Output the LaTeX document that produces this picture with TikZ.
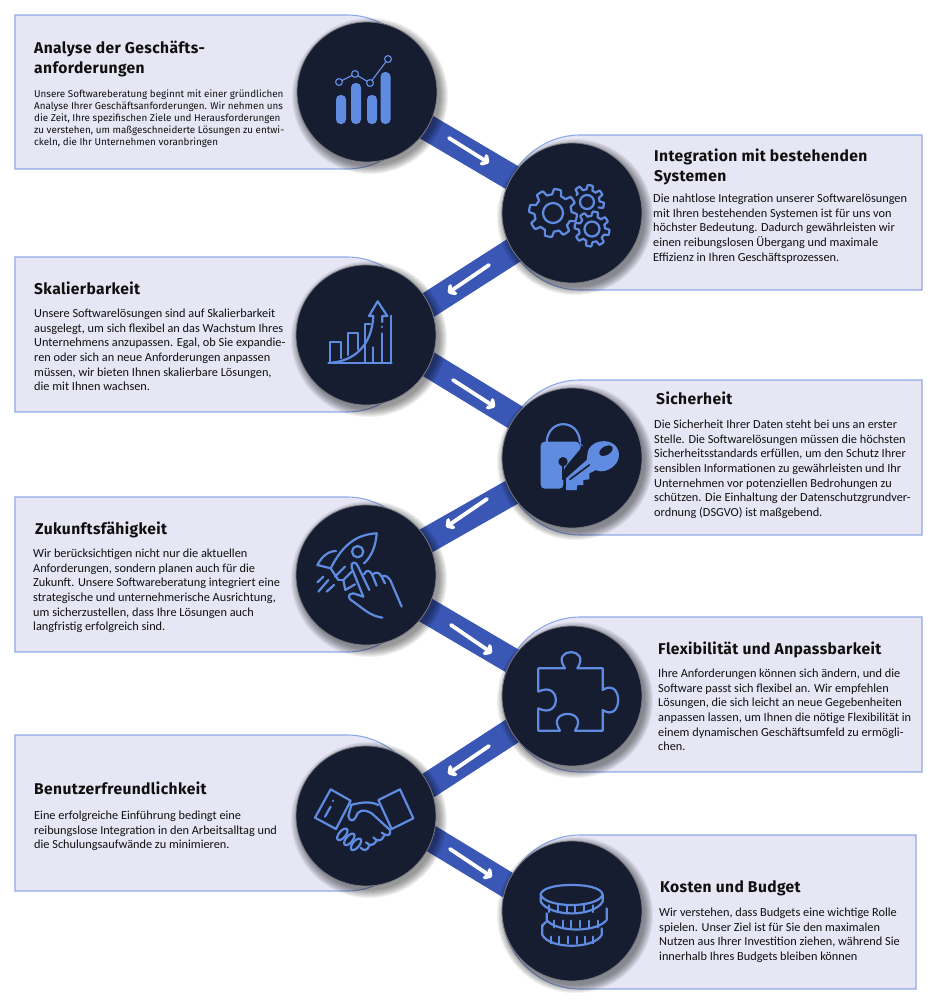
\documentclass[tikz,border=0pt]{standalone}
\usepackage{fontspec}
\setmainfont{Carlito}
\newfontfamily\titlefam[LetterSpace=2.5]{Fira Sans}
\newfontfamily\overfam{Fira Sans}
\usetikzlibrary{calc,backgrounds,arrows.meta}
\definecolor{panelfill}{HTML}{E6E6F5}
\definecolor{paneledge}{HTML}{8FA9E6}
\definecolor{bandblue}{HTML}{3A57B6}
\definecolor{discdark}{HTML}{171D30}
\definecolor{discedge}{HTML}{77797F}
\definecolor{iconblue}{HTML}{5F8BE0}
\definecolor{ink}{HTML}{101010}
\tikzset{
  x=1pt,y=-1pt,
  disc/.style={circle,fill=discdark,draw=discedge,line width=.8pt,minimum size=140pt,inner sep=0},
  panelshape/.style={fill=panelfill,draw=paneledge,line width=1.1pt},
  bandline/.style={draw=bandblue,line width=26pt},
  whitearrow/.style={draw=white,line width=3.8pt,line cap=round,-{Straight Barb[length=4pt,width=9pt,round]}},
  paneltitle/.style={anchor=north west,inner sep=0,align=left,text=ink,font=\titlefam\bfseries\fontsize{15.6}{20}\selectfont},
  panelbody/.style={anchor=north west,inner sep=0,align=left,text=ink,font=\fontsize{12.3}{14.6}\selectfont},
  panelbodyfirst/.style={anchor=north west,inner sep=0,align=left,text=ink,font=\overfam\fontsize{9.85}{12}\selectfont},
  iconline/.style={draw=iconblue,line width=2.2pt,line cap=round,line join=round},
  iconthin/.style={draw=iconblue,line width=1.2pt},
  iconfill/.style={fill=iconblue},
  cut/.style={draw=discdark,line width=1.6pt,line cap=round},
}
\newcommand\leftpanel[2]{\path[panelshape] (15,#1) -- (347,#1) .. controls (389,#1) and (424.5,{(#1+#2)/2-42}) .. (424.5,{(#1+#2)/2}) .. controls (424.5,{(#1+#2)/2+42}) and (389,#2) .. (347,#2) -- (15,#2) -- cycle;}
\newcommand\rightpanel[3]{\path[panelshape] (#3,#1) -- (580,#1) .. controls (538,#1) and (502.5,{(#1+#2)/2-42}) .. (502.5,{(#1+#2)/2}) .. controls (502.5,{(#1+#2)/2+42}) and (538,#2) .. (580,#2) -- (#3,#2) -- cycle;}
\newcommand\gearshape[7]{\draw[iconline] plot[domain=#6:#7,samples=240,smooth] ({#1+(#3-#4*(0.5-0.5*max(-1,min(1,2.6*sin(#5*\x)))))*cos(\x)},{#2+(#3-#4*(0.5-0.5*max(-1,min(1,2.6*sin(#5*\x)))))*sin(\x)});}
\begin{document}
\begin{tikzpicture}
\useasboundingbox (0,0) rectangle (938,1005);
% discs
\node[disc] (c1) at (367,92) {};
\node[disc] (c2) at (572,213) {};
\node[disc] (c3) at (366,335) {};
\node[disc] (c4) at (572,458) {};
\node[disc] (c5) at (366,575) {};
\node[disc] (c6) at (572,696) {};
\node[disc] (c7) at (366,816) {};
\node[disc] (c8) at (572,911) {};
% arrow ends
\coordinate (a1s) at (449,138); \coordinate (a1e) at (489,163);
\coordinate (a2s) at (489,265); \coordinate (a2e) at (448,293);
\coordinate (a3s) at (453,380); \coordinate (a3e) at (495,407);
\coordinate (a4s) at (487,499); \coordinate (a4e) at (446,527);
\coordinate (a5s) at (451,625); \coordinate (a5e) at (492,653);
\coordinate (a6s) at (489,746); \coordinate (a6e) at (448,774);
\coordinate (a7s) at (450,849); \coordinate (a7e) at (492,877);
\begin{scope}[on background layer]
\leftpanel{15}{169}
\rightpanel{135}{290}{922}
\leftpanel{257}{412}
\rightpanel{380}{535}{922}
\leftpanel{497}{652}
\rightpanel{617}{772}{922}
\leftpanel{735}{891}
\rightpanel{835}{989}{916}
\draw[bandline] (c1.center) -- (c2.center);
\draw[bandline] ($(c3.center)+(0,10)$) -- (c2.center);
\draw[bandline] ($(c3.center)+(0,-9)$) -- ($(c4.center)+(0,-6)$);
\draw[bandline] (c5.center) -- (c4.center);
\draw[bandline] (c5.center) -- (c6.center);
\draw[bandline] ($(c7.center)+(0,10)$) -- ($(c6.center)+(0,-4)$);
\draw[bandline] ($(c7.center)+(0,-17)$) -- ($(c8.center)+(0,13)$);
\foreach \s/\e in {a1s/a1e,a2s/a2e,a3s/a3e,a4s/a4e,a5s/a5e,a6s/a6e,a7s/a7e}
  \draw[whitearrow] (\s) -- (\e);
\foreach \c in {c1,c2,c3,c4,c5,c6,c7,c8}
  \foreach \r in {70,71,...,78}
    \fill[black,opacity=.055] ($(\c.center)+(3,4)$) circle[radius=\r pt];
\end{scope}
% texts
\node[paneltitle] (t1) at (34,41) {Analyse der Geschäfts-\\anforderungen};
\node[panelbodyfirst] (b1) at (34,89.5) {Unsere Softwareberatung beginnt mit einer gründlichen\\Analyse Ihrer Geschäftsanforderungen. Wir nehmen uns\\die Zeit, Ihre spezifischen Ziele und Herausforderungen\\zu verstehen, um maßgeschneiderte Lösungen zu entwi-\\ckeln, die Ihr Unternehmen voranbringen};
\node[paneltitle] (t2) at (654,149) {Integration mit bestehenden\\Systemen};
\node[panelbody] (b2) at (653,194) {Die nahtlose Integration unserer Softwarelösungen\\mit Ihren bestehenden Systemen ist für uns von\\höchster Bedeutung. Dadurch gewährleisten wir\\einen reibungslosen Übergang und maximale\\Effizienz in Ihren Geschäftsprozessen.};
\node[paneltitle] (t3) at (34,282) {Skalierbarkeit};
\node[panelbody] (b3) at (34,309) {Unsere Softwarelösungen sind auf Skalierbarkeit\\ausgelegt, um sich flexibel an das Wachstum Ihres\\Unternehmens anzupassen. Egal, ob Sie expandie-\\ren oder sich an neue Anforderungen anpassen\\müssen, wir bieten Ihnen skalierbare Lösungen,\\die mit Ihnen wachsen.};
\node[paneltitle] (t4) at (656,392) {Sicherheit};
\node[panelbody] (b4) at (654,420) {Die Sicherheit Ihrer Daten steht bei uns an erster\\Stelle. Die Softwarelösungen müssen die höchsten\\Sicherheitsstandards erfüllen, um den Schutz Ihrer\\sensiblen Informationen zu gewährleisten und Ihr\\Unternehmen vor potenziellen Bedrohungen zu\\schützen. Die Einhaltung der Datenschutzgrundver-\\ordnung (DSGVO) ist maßgebend.};
\node[paneltitle] (t5) at (35,522) {Zukunftsfähigkeit};
\node[panelbody] (b5) at (33,549) {Wir berücksichtigen nicht nur die aktuellen\\Anforderungen, sondern planen auch für die\\Zukunft. Unsere Softwareberatung integriert eine\\strategische und unternehmerische Ausrichtung,\\um sicherzustellen, dass Ihre Lösungen auch\\langfristig erfolgreich sind.};
\node[paneltitle] (t6) at (658,642) {Flexibilität und Anpassbarkeit};
\node[panelbody] (b6) at (658,669) {Ihre Anforderungen können sich ändern, und die\\Software passt sich flexibel an. Wir empfehlen\\Lösungen, die sich leicht an neue Gegebenheiten\\anpassen lassen, um Ihnen die nötige Flexibilität in\\einem dynamischen Geschäftsumfeld zu ermögli-\\chen.};
\node[paneltitle] (t7) at (34,782) {Benutzerfreundlichkeit};
\node[panelbody] (b7) at (34,811) {Eine erfolgreiche Einführung bedingt eine\\reibungslose Integration in den Arbeitsalltag und\\die Schulungsaufwände zu minimieren.};
\node[paneltitle] (t8) at (660,880) {Kosten und Budget};
\node[panelbody] (b8) at (659,908) {Wir verstehen, dass Budgets eine wichtige Rolle\\spielen. Unser Ziel ist für Sie den maximalen\\Nutzen aus Ihrer Investition ziehen, während Sie\\innerhalb Ihres Budgets bleiben können};
% icon 1: bars
\foreach \xa/\yt in {336/95,351/83,367/95,380.5/72}
  \fill[iconblue,rounded corners=4.5pt] (\xa,\yt) rectangle ({\xa+10},124);
\draw[iconthin] (339,82) -- (355,74) -- (370,83) -- (388,59);
\foreach \px/\py in {339/82,355/74,370/83,388/59}
  \draw[iconthin,fill=discdark] (\px,\py) circle[radius=3.4pt];
% icon 2: gears
\gearshape{553}{213}{24}{5.5}{8}{0}{360}
\draw[iconline] (553,213) circle[radius=10pt];
\gearshape{587}{202}{17}{4.5}{8}{-147}{25}
\draw[iconline] (587,202) circle[radius=7pt];
\gearshape{592}{229}{17.5}{4.5}{8}{0}{360}
\draw[iconline] (592,229) circle[radius=7.5pt];
% icon 3: growth chart
\begin{scope}[shift={(290,250)},scale=1/3]
\draw[iconline] (115,340) -- (305,340);
\draw[iconline] (120,335) -- (120,275) -- (152,275) -- (152,325);
\draw[iconline] (173,315) -- (173,250) -- (205,250) -- (205,298);
\draw[iconline] (225,335) -- (225,222) -- (240,222);
\draw[iconline] (250,340) -- (250,292);
\draw[iconline] (277,340) -- (277,250);
\draw[iconline] (302,340) -- (302,197);
\draw[iconline] (125,338) .. controls (190,332) and (245,290) .. (250,198) -- (237,198) -- (263,154) -- (292,198) -- (277,198) -- (277,216);
\draw[iconline] (277,230) -- (277,231);
\end{scope}
% icon 4: lock and key
\begin{scope}[shift={(530,410)},scale=1/3]
\draw[iconline] (50,95) .. controls (55,25) and (145,25) .. (150,95);
\fill[iconblue,rounded corners=4pt] (32,95) -- (150,95) -- (150,105) -- (158,108) -- (100,178) -- (100,236) -- (32,236) -- cycle;
\fill[discdark] (99,155) circle[radius=14*1pt];
\draw[cut] (99,160) -- (99,208);
\fill[iconblue] (172,135) .. controls (172,105) and (205,88) .. (235,95) .. controls (265,102) and (275,135) .. (260,158) .. controls (245,180) and (215,190) .. (198,180) -- (178,190) -- (178,208) -- (160,210) -- (160,225) -- (142,225) -- (140,240) -- (108,240) -- (108,205) -- (170,150) -- cycle;
\fill[discdark,rotate around={30:(228,122)}] (228,122) ellipse[x radius=22,y radius=13];
\draw[cut] (120,208) -- (178,165);
\end{scope}
% icon 5: rocket and hand
\begin{scope}[shift={(310,525)},scale=1/3]
\draw[iconline] (200,25) .. controls (135,28) and (95,65) .. (62,130) -- (85,165);
\draw[iconline] (200,25) .. controls (198,60) and (185,95) .. (162,115);
\draw[iconline] (78,78) .. controls (55,78) and (35,95) .. (22,120) -- (62,130);
\draw[iconline] (143,80) circle[radius=17*1pt];
\draw[iconline] (75,155) -- (105,125);
\draw[iconline] (100,165) -- (125,140);
\draw[iconline] (100,165) -- (106,195) -- (135,178);
\draw[iconline] (85,165) -- (100,165);
\draw[iconline] (22,172) -- (40,155);
\draw[iconline] (25,200) -- (55,165);
\draw[iconline] (50,200) -- (72,180);
\draw[iconline] (160,215) -- (125,128) .. controls (120,110) and (138,108) .. (143,122) -- (178,195);
\draw[iconline] (162,148) .. controls (170,132) and (180,135) .. (187,150) -- (200,182);
\draw[iconline] (187,150) .. controls (195,140) and (208,140) .. (215,155) -- (225,175);
\draw[iconline] (215,155) .. controls (225,148) and (238,155) .. (245,175) -- (275,245);
\draw[iconline] (160,215) -- (130,205) .. controls (112,205) and (112,222) .. (130,230) .. controls (165,255) and (180,272) .. (217,278);
\end{scope}
% icon 6: puzzle
\begin{scope}[shift={(290,490)},scale=1/3]
\draw[iconline] (745,535) -- (825,535) .. controls (780,470) and (905,470) .. (862,535) -- (938,535) -- (938,600) .. controls (1000,560) and (1000,700) .. (938,660) -- (938,722) -- (855,722) .. controls (900,655) and (765,655) .. (810,722) -- (745,722) -- (745,655) .. controls (815,690) and (815,570) .. (745,605) -- cycle;
\end{scope}
% icon 7: handshake
\begin{scope}[shift={(310,780)},scale=1/3]
\draw[iconline] (62,28) -- (122,62) -- (78,147) -- (15,113) -- cycle;
\draw[iconline] (205,60) -- (270,28) -- (310,115) -- (245,147) -- cycle;
\draw[iconline] (68,62) -- (68,63);
\draw[iconline] (62,80) -- (45,110);
\draw[iconline] (122,75) .. controls (150,68) and (180,62) .. (205,75);
\draw[iconline] (124,75) -- (115,108) .. controls (118,125) and (132,125) .. (138,110) .. controls (142,92) and (160,85) .. (185,100) -- (240,150);
\draw[iconline] (240,150) .. controls (245,168) and (230,170) .. (215,158);
\draw[iconline] (222,168) .. controls (215,185) and (200,185) .. (190,172);
\draw[iconline] (200,182) .. controls (190,198) and (178,198) .. (168,187);
\draw[iconline] (178,197) .. controls (172,213) and (160,213) .. (152,203);
\foreach \mx/\my in {97/163,118/178,138/193}
  \draw[iconline,rotate around={50:(\mx,\my)}] (\mx,\my) ellipse[x radius=21,y radius=10];
\end{scope}
% icon 8: coins
\begin{scope}[shift={(530,880)},scale=1/3]
\draw[iconline] (37,135) -- (37,165) .. controls (60,208) and (190,208) .. (215,165) -- (215,145);
\foreach \tx in {62,88,114,140,166,190} \draw[iconline] (\tx,170) -- (\tx,190);
\draw[iconline] (37,138) .. controls (40,132) and (45,128) .. (50,125);
\draw[iconline] (50,100) -- (50,120) .. controls (80,158) and (200,158) .. (230,120) -- (230,85);
\foreach \tx in {72,98,124,150,176,204} \draw[iconline] (\tx,122) -- (\tx,142);
\draw[iconline] (125,15) .. controls (60,15) and (32,30) .. (32,45) -- (32,65) .. controls (60,112) and (190,112) .. (218,65) -- (218,45) .. controls (218,30) and (190,15) .. (125,15);
\draw[iconline] (32,45) .. controls (50,85) and (200,85) .. (218,45);
\foreach \tx in {58,84,110,136,162,188} \draw[iconline] (\tx,76) -- (\tx,96);
\end{scope}
\end{tikzpicture}
\end{document}
